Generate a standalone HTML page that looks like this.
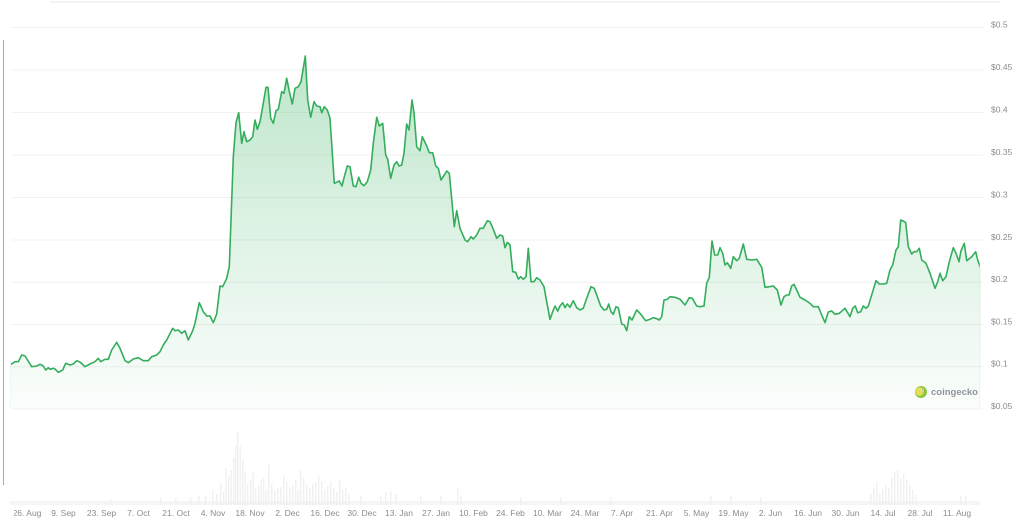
<!DOCTYPE html>
<html>
<head>
<meta charset="utf-8">
<style>
html,body{margin:0;padding:0;background:#fff;}
body{width:1028px;height:525px;overflow:hidden;}
svg{display:block;}
text{font-family:"Liberation Sans",sans-serif;}
</style>
</head>
<body>
<svg width="1028" height="525" viewBox="0 0 1028 525" xmlns="http://www.w3.org/2000/svg">
<defs>
<linearGradient id="fillg" x1="0" y1="56" x2="0" y2="409" gradientUnits="userSpaceOnUse">
<stop offset="0" stop-color="#3cb464" stop-opacity="0.34"/>
<stop offset="0.5" stop-color="#3cb464" stop-opacity="0.17"/>
<stop offset="1" stop-color="#3cb464" stop-opacity="0.02"/>
</linearGradient>
<clipPath id="xclip"><rect x="14" y="500" width="1014" height="25"/></clipPath>
<clipPath id="lclip"><rect x="10.9" y="0" width="968.9" height="408"/></clipPath>
<path id="price" d="M10,409 L10,365 15,361.7 18.3,361.7 21.7,355 25,356 31.7,366.7 36.7,366 40,364.3 43.3,366 45.7,370 48.3,367.7 50,369.3 53.3,368.3 55,369 58.3,372.3 62.7,370 65.7,363.3 70,365 73.3,364 76.7,360.7 80,362 85,366.7 90,364 95,361.7 98.3,358.3 100.7,361.7 105,359.3 108.3,359.3 111.7,350 116.7,342.3 120,348.3 125,360.7 128.3,362.7 133.3,359 138.3,357.7 143.3,360.7 148.3,360.7 151.7,356.7 156.7,355 160,351.7 163.3,345 166.7,340 172.7,328.3 175,330.7 178.3,330 181.7,333.3 185,330.7 188.3,340 192.7,330.7 195,323.3 199.3,302.7 203.3,311.7 206.7,316 210,316 213.3,322.7 216.7,314 220,286 222.7,286.7 226.7,278.3 229.3,266.7 233.3,156.7 236,122.7 238.7,112.7 241.7,143.3 244,131.7 246.7,141.7 250,140 252.7,136.7 255,120 257.3,129.3 260,121.7 262.7,106.7 266,87.3 268,87.3 270.7,118.3 273.3,123.3 276,110.7 278.3,109.3 281.7,91.7 284,93.3 286.7,78.3 289,90 292.3,104 295,88.3 298.3,86.7 301,81.7 305.3,56 307.7,100 310.7,117.3 314,101.7 316.7,106 320,106.7 321.7,112.7 324.3,106.7 327.3,110 330,118.3 334.3,183.3 339.3,181 342,186 344.3,176.7 347.3,166 350,166.7 353.3,186 356,186.7 358.7,177.3 361,183.3 364,185.7 367.3,181.7 370.7,170 373.3,143.3 376.7,117.3 379.3,126 382.7,123.3 385.7,155 387.7,159.3 390.7,178.3 394,165 396.7,161.7 399,166 401.7,165 404,153.3 406.7,124 409,130 412,100 414,112.7 416.7,146.7 420,150.7 422.3,136.7 426.7,146 429.3,152.7 432.7,152.7 435.7,166 438.3,168.3 441,180 444.3,175 446.7,171 449.3,173.3 454.3,226.7 456.7,210.7 460,228.3 465,240 467.7,241.7 471,236.7 473.3,239 476.7,235 480,228.3 483.3,228.3 487.3,220.7 490,221.7 493.3,229.3 496.7,238.3 500,235 502.7,236 505,247.7 507.3,242.3 510,245 512.7,271.7 515.7,272.3 518.3,279 520.7,276.7 523.3,279.3 526,276.7 528.3,248.3 531,281.7 534,281.7 536.7,277.7 540,280 544,286.7 546.7,301.7 550,319.3 552.7,311.7 555,306 557.7,311 560,306 562.7,302.7 565,307.7 567.3,304 570,307.3 573.3,300.7 576.7,307.7 580,310 583.3,308.3 586.7,298.3 591,286.7 594.3,288.3 597.3,296.7 600.7,306 604,310 606.7,309.3 608.7,304 611,311.7 613.3,314.3 616,306.7 618.3,307.7 621.7,324 624.3,325 626.7,330.7 629.3,316.7 632,320 636.7,310 640,313.3 645.7,320.7 650,319.3 653.3,317.7 656.7,318.7 659.3,320 661.7,316.7 664,300 667.3,299.3 670,296.7 675,297.3 680,299.3 685,305 689.3,297.7 692.3,298.3 696.7,306 700,306.7 704,306 706.7,283.3 709.3,277.3 712,241 714.7,255 717.7,255 720,247.7 722.7,253.3 725,265 727.3,262.7 730.7,268.3 733.3,256.7 736.7,260.7 739.3,258.3 743.3,244 746.7,259.3 751.7,260 756.7,259.3 761.7,267.3 765,287.3 769.3,286.7 773.3,286 777.3,290 781,305 784,296.7 786.7,295 789,295 791.7,286 794,284.3 796.7,290 800,297.3 805,300 810,303.3 813.3,306.7 818.3,306.7 821.7,315 825,322.7 828.3,312 831.7,311 835,314.3 839.3,313.3 845,308.3 850,316.7 852.7,308.3 855.3,306 857.7,312.7 860.7,311.7 863.3,306 866,308.3 868.3,306 872.7,291.7 876,280.7 879.3,284 883.3,284 886.7,283.3 890,270 892.7,265 896,250 898.3,246.7 900.7,220 903.3,221 905.7,222.7 908.3,246.7 911.7,254 914,251.7 916.7,251.7 919.3,248.3 921.7,260 926,263.3 930,273.3 935,288.3 937.7,281.7 940,273.3 942.7,280.7 946,276.7 949.3,261.7 953.3,247.7 956,253.3 959,261.7 961,250.7 964.3,243.3 966.7,260.7 971.7,256.7 975.7,251.7 977.7,260 980.7,268.3 L980.7,409"/>
</defs>
<rect width="1028" height="525" fill="#fff"/>
<path d="M50,2H1000" stroke="#f0f0f0" stroke-width="1.5"/>
<path d="M3.5,40V485" stroke="#a8a8a8" stroke-width="1"/>
<path stroke="#f1f1f1" stroke-width="1" fill="none" d="M12,27.5H983M12,70H983M12,112.5H983M12,155H983M12,197.5H983M12,240H983M12,282.3H983M12,324.5H983M12,366.8H983M12,409H983"/>
<g font-size="8.5" fill="#8c8c8c" dominant-baseline="middle">
<text x="991" y="25">$0.5</text>
<text x="991" y="67.7">$0.45</text>
<text x="991" y="110">$0.4</text>
<text x="991" y="152.5">$0.35</text>
<text x="991" y="195">$0.3</text>
<text x="991" y="237.5">$0.25</text>
<text x="991" y="279.7">$0.2</text>
<text x="991" y="322">$0.15</text>
<text x="991" y="364.3">$0.1</text>
<text x="991" y="406.5">$0.05</text>
</g>
<rect x="10" y="501" width="970" height="4" fill="#f5f5f5"/>
<path stroke="#f0f0f0" stroke-width="1.4" fill="none" d="M110.7,505v-6M160.7,505v-7M175.7,505v-7M190.7,505v-8M198.7,505v-9M205.7,505v-10M212.7,505v-15M216.7,505v-11M220.7,505v-21M223.7,505v-13M226.2,505v-37M228.7,505v-29M231.2,505v-35M233.7,505v-47M235.7,505v-60M237.7,505v-73M240.2,505v-59M242.7,505v-45M245.2,505v-33M247.7,505v-21M250.7,505v-25M253.2,505v-33M255.7,505v-17M258.7,505v-19M261.2,505v-25M263.7,505v-27M266.2,505v-15M268.7,505v-40M271.7,505v-21M274.7,505v-15M277.7,505v-17M280.7,505v-18M283.7,505v-29M286.7,505v-23M289.7,505v-17M292.7,505v-19M295.7,505v-25M298.2,505v-15M300.7,505v-35M303.7,505v-27M306.7,505v-20M309.7,505v-17M312.7,505v-21M315.7,505v-23M318.7,505v-29M321.7,505v-24M324.7,505v-15M327.7,505v-19M330.7,505v-23M333.7,505v-17M336.7,505v-13M339.7,505v-25M342.7,505v-15M345.7,505v-17M348.7,505v-11M360.7,505v-9M380.7,505v-10M385.7,505v-13M390.7,505v-14M395.7,505v-11M420.7,505v-9M440.7,505v-9M457.7,505v-17M460.7,505v-10M520.7,505v-8M560.7,505v-8M610.7,505v-8M710.7,505v-9M730.7,505v-9M760.7,505v-8M870.7,505v-11M873.7,505v-17M876.7,505v-23M879.7,505v-11M882.7,505v-15M885.7,505v-20M888.7,505v-17M891.7,505v-27M894.7,505v-33M897.7,505v-35M900.7,505v-27M903.7,505v-31M906.7,505v-25M909.7,505v-19M912.7,505v-15M915.7,505v-10M960.7,505v-9M965.7,505v-10"/>
<use href="#price" fill="url(#fillg)" stroke="none"/>
<g clip-path="url(#lclip)">
<use href="#price" fill="none" stroke="#34ad5c" stroke-width="1.6" stroke-linejoin="round" stroke-linecap="round"/>
</g>
<circle cx="921" cy="392" r="6" fill="#8dc63f"/>
<circle cx="919.5" cy="391.5" r="4.2" fill="#f2e25a" opacity="0.85"/>
<circle cx="922.5" cy="390" r="1.3" fill="#fff"/>
<circle cx="922.7" cy="390" r="0.6" fill="#555"/>
<text x="931" y="395.2" font-size="9.5" font-weight="bold" fill="#8e949c">coingecko</text>
<g font-size="8.5" fill="#8c8c8c" text-anchor="middle" clip-path="url(#xclip)">
<text x="27" y="516">26. Aug</text>
<text x="63.5" y="516">9. Sep</text>
<text x="101.5" y="516">23. Sep</text>
<text x="138.5" y="516">7. Oct</text>
<text x="176" y="516">21. Oct</text>
<text x="213" y="516">4. Nov</text>
<text x="250" y="516">18. Nov</text>
<text x="287.5" y="516">2. Dec</text>
<text x="325" y="516">16. Dec</text>
<text x="362" y="516">30. Dec</text>
<text x="399" y="516">13. Jan</text>
<text x="436" y="516">27. Jan</text>
<text x="473.5" y="516">10. Feb</text>
<text x="510.5" y="516">24. Feb</text>
<text x="547.5" y="516">10. Mar</text>
<text x="585" y="516">24. Mar</text>
<text x="622" y="516">7. Apr</text>
<text x="659.5" y="516">21. Apr</text>
<text x="696.5" y="516">5. May</text>
<text x="733.5" y="516">19. May</text>
<text x="770.5" y="516">2. Jun</text>
<text x="808" y="516">16. Jun</text>
<text x="845.5" y="516">30. Jun</text>
<text x="883" y="516">14. Jul</text>
<text x="920" y="516">28. Jul</text>
<text x="957" y="516">11. Aug</text>
</g>
</svg>
</body>
</html>
